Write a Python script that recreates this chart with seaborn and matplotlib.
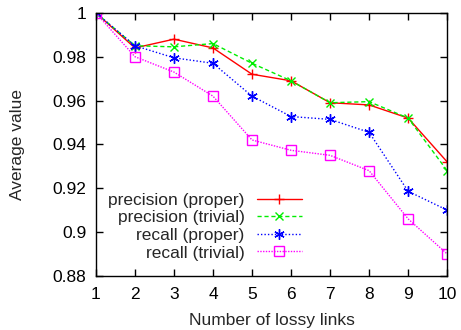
import matplotlib
matplotlib.use("Agg")
import matplotlib.pyplot as plt
import seaborn as sns
import pandas as pd
from matplotlib.ticker import FuncFormatter

links = [1, 2, 3, 4, 5, 6, 7, 8, 9, 10]
precision_proper = [1.0, 0.984, 0.988, 0.984, 0.972, 0.969, 0.959, 0.958, 0.952, 0.932]
precision_trivial = [1.0, 0.985, 0.9845, 0.986, 0.977, 0.969, 0.959, 0.9595, 0.952, 0.928]
recall_proper = [1.0, 0.985, 0.9795, 0.977, 0.962, 0.9527, 0.9514, 0.9455, 0.9186, 0.910]
recall_trivial = [1.0, 0.980, 0.973, 0.962, 0.942, 0.9373, 0.935, 0.928, 0.906, 0.890]
labels = ["precision (proper)", "precision (trivial)", "recall (proper)", "recall (trivial)"]

sns.set_style("ticks")
plt.rcParams['font.family'] = ['Liberation Sans', 'DejaVu Sans']
FS = 12.5

fig = plt.figure(figsize=(4.61, 3.30), dpi=100)
ax = fig.add_axes([0.208, 0.164, 0.762, 0.797])

series = [precision_proper, precision_trivial, recall_proper, recall_trivial]
colors = ["#ff0000", "#00ee00", "#0000ff", "#ff00ff"]
styles = [
    dict(marker="+", linestyle="-", markersize=7.5),
    dict(marker="x", linestyle=(0, (3, 2)), markersize=6),
    dict(marker=(6, 2, 0), linestyle=(0, (1, 1.5)), markersize=7.5),
    dict(marker="s", linestyle=(0, (1, 1)), markersize=6.5, markerfacecolor="none"),
]
for vals, lab, col, st in zip(series, labels, colors, styles):
    df = pd.DataFrame({"x": links, "y": vals})
    sns.lineplot(data=df, x="x", y="y", ax=ax, label=lab, linewidth=1.0, color=col,
                 markeredgecolor=col, markeredgewidth=1.0, **st)

ax.set_xlim(1, 10)
ax.set_ylim(0.88, 1.0)
ax.set_xticks(links)
ax.set_yticks([0.88, 0.90, 0.92, 0.94, 0.96, 0.98, 1.0])
ax.yaxis.set_major_formatter(FuncFormatter(lambda v, p: "%g" % round(v, 2)))
ax.set_xlabel("Number of lossy links", fontsize=FS, labelpad=8)
ax.set_ylabel("Average value", fontsize=FS, labelpad=20)
ax.tick_params(direction="in", length=5, width=1, top=True, right=True, labelsize=FS,
               colors="black")
ax.tick_params(axis="x", pad=8)
ax.tick_params(axis="y", pad=7)
for s in ax.spines.values():
    s.set_linewidth(1.0)
    s.set_color("black")

leg = ax.legend(loc="lower left", bbox_to_anchor=(0.0, 0.012), markerfirst=False, frameon=False,
                fontsize=FS, handlelength=2.6, labelspacing=0.14, borderaxespad=0.3, handletextpad=0.7)

fig.savefig("out.png", dpi=100)
